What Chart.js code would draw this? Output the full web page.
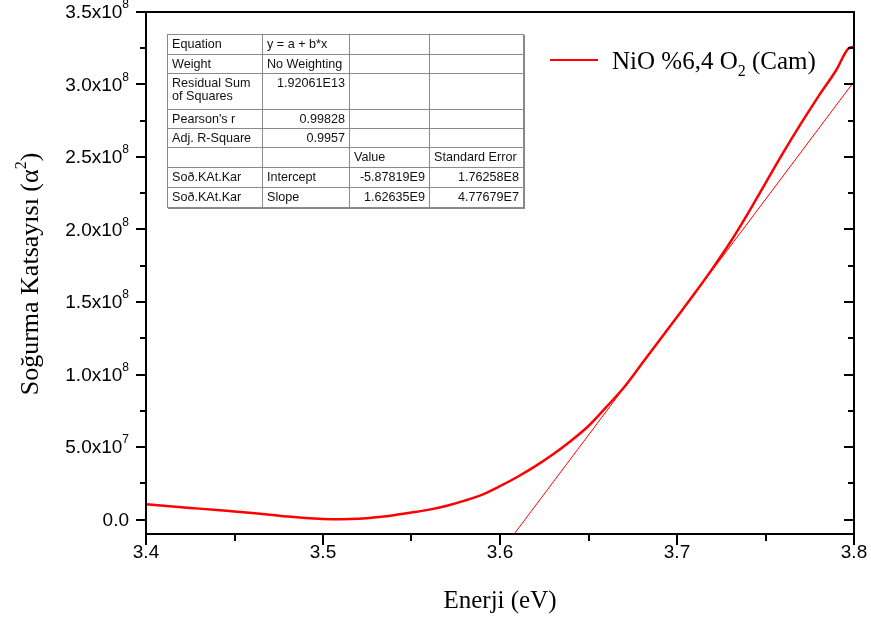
<!DOCTYPE html>
<html>
<head>
<meta charset="utf-8">
<script src="https://cdn.jsdelivr.net/npm/chart.js@4.4.1/dist/chart.umd.min.js"></script>
<style>
  body { margin: 0; background: #fff; overflow: hidden; }
  #wrap { position: relative; width: 871px; height: 622px; }
  #fitTable {
    position: absolute; left: 167px; top: 34px;
    border-collapse: collapse; background: #fff;
    font-family: "Liberation Sans", Arial, sans-serif; font-size: 12.6px; color: #111;
    box-shadow: 1px 1px 0 #888;
  }
  #fitTable td { border: 1px solid #8a8a8a; padding: 3px 4px 2px 4px; vertical-align: top; line-height: 13px; white-space: nowrap; }
  #fitTable td.r { text-align: right; }
</style>
</head>
<body>
<div id="wrap">
  <canvas id="chart" width="871" height="622"></canvas>
  <table id="fitTable">
    <tr style="height:20px"><td style="width:86px">Equation</td><td style="width:78px">y = a + b*x</td><td style="width:71px"></td><td style="width:85px"></td></tr>
    <tr style="height:19px"><td>Weight</td><td>No Weighting</td><td></td><td></td></tr>
    <tr style="height:36px"><td>Residual Sum<br>of Squares</td><td class="r">1.92061E13</td><td></td><td></td></tr>
    <tr style="height:19px"><td>Pearson's r</td><td class="r">0.99828</td><td></td><td></td></tr>
    <tr style="height:19px"><td>Adj. R-Square</td><td class="r">0.9957</td><td></td><td></td></tr>
    <tr style="height:20px"><td></td><td></td><td>Value</td><td>Standard Error</td></tr>
    <tr style="height:20px"><td>Soð.KAt.Kar</td><td>Intercept</td><td class="r">-5.87819E9</td><td class="r">1.76258E8</td></tr>
    <tr style="height:20px"><td>Soð.KAt.Kar</td><td>Slope</td><td class="r">1.62635E9</td><td class="r">4.77679E7</td></tr>
  </table>
</div>
<script>
const energy = [3.40, 3.41, 3.42, 3.43, 3.44, 3.45, 3.46, 3.47, 3.48, 3.49,
                3.50, 3.51, 3.52, 3.53, 3.54, 3.55, 3.56, 3.57, 3.58, 3.59,
                3.60, 3.61, 3.62, 3.63, 3.64, 3.65, 3.66, 3.67, 3.68, 3.69,
                3.70, 3.71, 3.72, 3.73, 3.74, 3.75, 3.76, 3.77, 3.78, 3.79,
                3.797, 3.80];
const alphaSq = [1.05e7, 0.95e7, 0.85e7, 0.75e7, 0.65e7, 0.55e7, 0.45e7, 0.33e7, 0.2e7, 0.1e7,
                 0.04e7, 0.02e7, 0.05e7, 0.15e7, 0.3e7, 0.48e7, 0.68e7, 0.95e7, 1.3e7, 1.72e7,
                 2.3e7, 2.95e7, 3.68e7, 4.5e7, 5.42e7, 6.45e7, 7.75e7, 9.1e7, 1.072e8, 1.235e8,
                 1.397e8, 1.56e8, 1.73e8, 1.91e8, 2.11e8, 2.32e8, 2.53e8, 2.73e8, 2.92e8, 3.1e8,
                 3.25e8, 3.26e8];

// linear fit line end points
const fitEnergy = [3.608, 3.80];
const fitAlpha = [-1.0e7, 3.02e8];

const seriesLabel = 'NiO %6,4 O';
const xTicks = [3.4, 3.5, 3.6, 3.7, 3.8];
const xTickLabels = ['3.4', '3.5', '3.6', '3.7', '3.8'];
const yTicks = [0, 5e7, 1e8, 1.5e8, 2e8, 2.5e8, 3e8, 3.5e8];
const yTickBase = ['0.0', '5.0x10', '1.0x10', '1.5x10', '2.0x10', '2.5x10', '3.0x10', '3.5x10'];
const yTickExp = ['', '7', '8', '8', '8', '8', '8', '8'];

const sansFont = '"Liberation Sans", Arial, sans-serif';
const serifFont = '"Liberation Serif", "Times New Roman", serif';

const framePlugin = {
  id: 'frame',
  afterDraw(chart) {
    const ctx = chart.ctx;
    const a = chart.chartArea;
    const xs = chart.scales.x, ys = chart.scales.y;
    ctx.save();
    ctx.strokeStyle = '#000';
    ctx.fillStyle = '#000';
    ctx.lineWidth = 2;
    ctx.strokeRect(a.left, a.top, a.right - a.left, a.bottom - a.top);

    // y ticks: outward on left, inward on right
    const yMinor = [];
    for (let i = 0; i < yTicks.length - 1; i++) yMinor.push((yTicks[i] + yTicks[i + 1]) / 2);
    ctx.lineWidth = 2;
    ctx.beginPath();
    yTicks.forEach(v => {
      const py = Math.round(ys.getPixelForValue(v));
      ctx.moveTo(a.left - 10, py); ctx.lineTo(a.left, py);
      ctx.moveTo(a.right - 10, py); ctx.lineTo(a.right, py);
    });
    yMinor.forEach(v => {
      const py = Math.round(ys.getPixelForValue(v));
      ctx.moveTo(a.left - 6, py); ctx.lineTo(a.left, py);
      ctx.moveTo(a.right - 6, py); ctx.lineTo(a.right, py);
    });
    // x ticks, outward on bottom
    const xMinor = [];
    for (let i = 0; i < xTicks.length - 1; i++) xMinor.push((xTicks[i] + xTicks[i + 1]) / 2);
    xTicks.forEach(v => {
      const px = Math.round(xs.getPixelForValue(v));
      ctx.moveTo(px, a.bottom); ctx.lineTo(px, a.bottom + 11);
    });
    xMinor.forEach(v => {
      const px = Math.round(xs.getPixelForValue(v));
      ctx.moveTo(px, a.bottom); ctx.lineTo(px, a.bottom + 7);
    });
    ctx.stroke();

    // y tick labels with exponent
    ctx.textBaseline = 'middle';
    yTicks.forEach((v, i) => {
      const py = ys.getPixelForValue(v);
      const right = a.left - 17;
      ctx.font = '12px ' + sansFont;
      const ew = yTickExp[i] ? ctx.measureText(yTickExp[i]).width : 0;
      ctx.textAlign = 'right';
      if (yTickExp[i]) ctx.fillText(yTickExp[i], right, py - 7);
      ctx.font = '19px ' + sansFont;
      ctx.fillText(yTickBase[i], right - ew, py + 1);
    });
    // x tick labels
    ctx.font = '19px ' + sansFont;
    ctx.textAlign = 'center';
    xTicks.forEach((v, i) => {
      ctx.fillText(xTickLabels[i], xs.getPixelForValue(v), a.bottom + 19);
    });

    // axis titles
    ctx.font = '25px ' + serifFont;
    ctx.textAlign = 'center';
    ctx.fillText('Enerji (eV)', (a.left + a.right) / 2, 601);

    ctx.save();
    ctx.translate(29, (a.top + a.bottom) / 2 + 1);
    ctx.rotate(-Math.PI / 2);
    const p1 = 'Soğurma Katsayısı (α', p2 = '2', p3 = ')';
    ctx.font = '26px ' + serifFont;
    const w1 = ctx.measureText(p1).width, w3 = ctx.measureText(p3).width;
    ctx.font = '16px ' + serifFont;
    const w2 = ctx.measureText(p2).width;
    let x0 = -(w1 + w2 + w3) / 2;
    ctx.textAlign = 'left';
    ctx.textBaseline = 'alphabetic';
    ctx.font = '26px ' + serifFont;
    ctx.fillText(p1, x0, 9);
    ctx.font = '16px ' + serifFont;
    ctx.fillText(p2, x0 + w1, -3);
    ctx.font = '26px ' + serifFont;
    ctx.fillText(p3, x0 + w1 + w2, 9);
    ctx.restore();

    // legend
    ctx.strokeStyle = '#ff0000';
    ctx.lineWidth = 2;
    ctx.beginPath();
    ctx.moveTo(550, 60); ctx.lineTo(598, 60);
    ctx.stroke();
    ctx.textAlign = 'left';
    ctx.textBaseline = 'alphabetic';
    ctx.font = '25px ' + serifFont;
    let lx = 612;
    ctx.fillText(seriesLabel, lx, 69);
    lx += ctx.measureText(seriesLabel).width;
    ctx.font = '16px ' + serifFont;
    ctx.fillText('2', lx, 76);
    lx += ctx.measureText('2').width;
    ctx.font = '25px ' + serifFont;
    ctx.fillText(' (Cam)', lx, 69);
    ctx.restore();
  }
};

const ctx = document.getElementById('chart').getContext('2d');
new Chart(ctx, {
  type: 'line',
  data: {
    datasets: [
      {
        label: seriesLabel,
        data: energy.map((e, i) => ({ x: e, y: alphaSq[i] })),
        borderColor: '#ff0000',
        borderWidth: 2.5,
        pointRadius: 0,
        cubicInterpolationMode: 'monotone',
        fill: false,
      },
      {
        label: 'fit',
        data: fitEnergy.map((e, i) => ({ x: e, y: fitAlpha[i] })),
        borderColor: '#ff0000',
        borderWidth: 1,
        pointRadius: 0,
        fill: false,
      },
    ]
  },
  options: {
    responsive: false,
    animation: false,
    layout: { padding: { left: 146, right: 17, top: 12, bottom: 88 } },
    plugins: {
      legend: { display: false },
      tooltip: { enabled: false },
    },
    scales: {
      x: { type: 'linear', min: 3.4, max: 3.8, display: false },
      y: { min: -1.0e7, max: 3.5e8, display: false },
    }
  },
  plugins: [framePlugin]
});
</script>
</body>
</html>
